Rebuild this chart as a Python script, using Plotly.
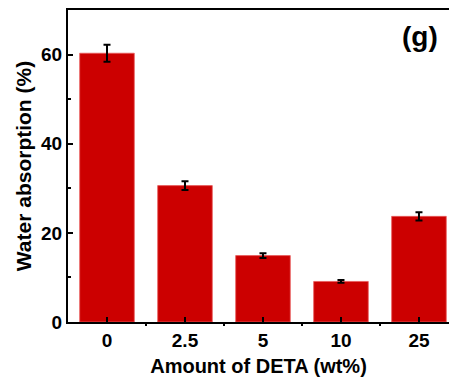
import plotly.graph_objects as go

categories = ["0", "2.5", "5", "10", "25"]
values = [60.3, 30.6, 14.9, 9.1, 23.7]
errors = [1.9, 1.0, 0.55, 0.3, 0.9]

x_pos = list(range(len(categories)))

fig = go.Figure()
fig.add_trace(go.Bar(
    x=x_pos, y=values, width=0.7,
    marker=dict(color="#CC0000", line=dict(color="#E85A5A", width=0.8)),
    error_y=dict(type="data", array=errors, visible=True, color="black",
                 thickness=2, width=3.5),
    showlegend=False,
))

font_family = "Liberation Sans, Arial, sans-serif"

fig.update_layout(
    width=449, height=382,
    margin=dict(l=68, r=0, t=10, b=60),
    plot_bgcolor="white", paper_bgcolor="white",
    font=dict(family=font_family, color="black"),
    xaxis=dict(
        range=[-0.5, 4.385],
        tickvals=x_pos, ticktext=categories,
        ticks="inside", ticklen=5, tickwidth=2, tickcolor="black",
        showline=True, linecolor="black", linewidth=2, mirror=True,
        showgrid=False, zeroline=False,
        tickfont=dict(size=19, family=font_family, color="black", weight="bold"),
        title=dict(text="<b>Amount of DETA (wt%)</b>", font=dict(size=20, family=font_family), standoff=9),
        minor=dict(tickvals=[0.5, 1.5, 2.5, 3.5], ticks="outside", ticklen=2, tickwidth=2, tickcolor="black"),
    ),
    yaxis=dict(
        range=[0, 70],
        tickvals=[0, 20, 40, 60],
        ticks="inside", ticklen=5, tickwidth=2, tickcolor="black",
        showline=True, linecolor="black", linewidth=2, mirror=False,
        showgrid=False, zeroline=False,
        tickfont=dict(size=19, family=font_family, color="black", weight="bold"),
        title=dict(text="<b>Water absorption (%)</b>", font=dict(size=21, family=font_family), standoff=4),
        minor=dict(tickvals=[10, 30, 50], ticks="inside", ticklen=3, tickwidth=2, tickcolor="black"),
    ),
    annotations=[dict(
        text="<b>(g)</b>", x=0.924, y=0.915, xref="paper", yref="paper",
        showarrow=False, xanchor="center", yanchor="middle",
        font=dict(size=28, family=font_family, color="black"),
    )],
)

fig.write_html("out.html")
